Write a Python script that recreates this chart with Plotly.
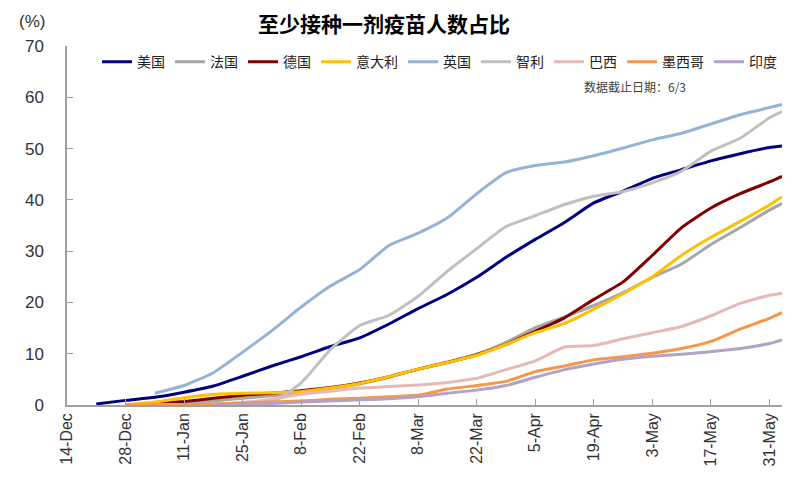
import plotly.graph_objects as go

dates = ["2020-12-14", "2020-12-21", "2020-12-28", "2021-01-04", "2021-01-11", "2021-01-18",
         "2021-01-25", "2021-02-01", "2021-02-08", "2021-02-15", "2021-02-22", "2021-03-01",
         "2021-03-08", "2021-03-15", "2021-03-22", "2021-03-29", "2021-04-05", "2021-04-12",
         "2021-04-19", "2021-04-26", "2021-05-03", "2021-05-10", "2021-05-17", "2021-05-24",
         "2021-05-31", "2021-06-03"]

us = [None, 0.2, 0.9, 1.5, 2.5, 3.7, 5.6, 7.6, 9.4, 11.4, 13.1, 15.8, 18.8, 21.6, 24.9, 28.8,
      32.3, 35.6, 39.4, 41.7, 44.2, 45.9, 47.6, 49.0, 50.2, 50.5]
france = [None, None, 0.0, 0.05, 0.3, 0.8, 1.3, 1.8, 2.4, 3.2, 4.1, 5.4, 7.0, 8.4, 9.9, 12.2,
          15.1, 17.2, 19.4, 21.9, 24.9, 27.5, 31.3, 34.6, 38.0, 39.3]
germany = [None, None, 0.0, 0.3, 0.7, 1.3, 1.9, 2.3, 2.8, 3.4, 4.3, 5.5, 7.0, 8.3, 9.8, 11.8,
           14.4, 17.0, 20.6, 24.0, 29.2, 34.6, 38.4, 41.2, 43.5, 44.6]
italy = [None, None, 0.05, 0.6, 1.4, 2.1, 2.3, 2.4, 2.6, 3.3, 4.2, 5.5, 7.0, 8.3, 9.7, 11.8,
         14.1, 15.9, 18.7, 21.7, 25.0, 29.2, 32.7, 35.8, 39.0, 40.6]
uk = [None, None, None, 2.3, 3.8, 6.3, 10.3, 14.5, 19.1, 23.2, 26.4, 31.1, 33.5, 36.5, 41.2,
      45.3, 46.7, 47.4, 48.6, 50.1, 51.7, 53.0, 54.8, 56.6, 58.0, 58.6]
chile = [None, None, 0.0, 0.05, 0.1, 0.2, 0.3, 0.5, 4.3, 10.8, 15.5, 17.5, 21.2, 26.1, 30.5,
         34.8, 36.9, 39.1, 40.7, 41.6, 43.3, 45.6, 49.5, 52.0, 56.0, 57.2]
brazil = [None, None, None, None, None, 0.1, 0.5, 1.1, 2.1, 2.7, 3.3, 3.6, 3.9, 4.4, 5.2, 6.9,
          8.6, 11.3, 11.6, 12.9, 14.1, 15.3, 17.4, 19.8, 21.4, 21.8]
mexico = [None, None, 0.0, 0.02, 0.05, 0.2, 0.4, 0.6, 0.8, 1.1, 1.3, 1.6, 1.9, 3.1, 3.8, 4.6,
          6.5, 7.6, 8.8, 9.4, 10.1, 11.0, 12.4, 14.8, 16.9, 18.0]
india = [None, None, None, None, None, 0.05, 0.15, 0.3, 0.6, 0.8, 1.0, 1.2, 1.6, 2.3, 2.9,
         3.8, 5.4, 6.9, 8.0, 8.9, 9.5, 9.9, 10.4, 11.0, 12.0, 12.7]

series_names = ["美国", "法国", "德国", "意大利", "英国", "智利", "巴西", "墨西哥", "印度"]
series_values = [us, france, germany, italy, uk, chile, brazil, mexico, india]
series_colors = ["#000080", "#A6A6A6", "#800000", "#FFC000", "#95B3D7", "#C0C0C0",
                 "#E6B9B8", "#F79646", "#B3A2C7"]

tick_dates = ["2020-12-14", "2020-12-28", "2021-01-11", "2021-01-25", "2021-02-08",
              "2021-02-22", "2021-03-08", "2021-03-22", "2021-04-05", "2021-04-19",
              "2021-05-03", "2021-05-17", "2021-05-31"]

fig = go.Figure()
for name, vals, col in zip(series_names, series_values, series_colors):
    fig.add_trace(go.Scatter(x=dates, y=vals, name=name, mode="lines",
                             line=dict(color=col, width=3, shape="spline", smoothing=0.5)))

font_fam = "Liberation Sans, Noto Sans CJK SC, sans-serif"
axis_col = "#A0A0A0"

# page body has an 8px margin: figure occupies x 8..802, y 8..492
W, H = 794, 484
fig.update_layout(
    width=W, height=H,
    margin=dict(l=59, r=20, t=38, b=87),
    paper_bgcolor="white", plot_bgcolor="white",
    font=dict(family=font_fam, color="#333333"),
    title=dict(text="<b>至少接种一剂疫苗人数占比</b>", x=(384 - 8) / W, xanchor="center",
               y=1 - (25 - 8) / H, yanchor="middle",
               font=dict(family="Noto Sans CJK SC", size=21, color="#000000")),
    legend=dict(orientation="h", x=(97 - 67) / 715, xanchor="left",
                y=0.955, yanchor="middle",
                font=dict(family="Noto Sans CJK SC", size=14, color="#222222"),
                bgcolor="rgba(0,0,0,0)", itemwidth=30, tracegroupgap=0),
    showlegend=True,
)

fig.update_xaxes(
    type="date", range=["2020-12-14", "2021-06-03"],
    tickvals=tick_dates, tickformat="%-d-%b", tickangle=-90,
    tickfont=dict(size=16, color="#333333"),
    showgrid=False, zeroline=False,
    showline=True, linecolor=axis_col, linewidth=1.5,
    ticks="inside", ticklen=6, tickcolor=axis_col, tickwidth=1,
)
fig.update_yaxes(
    range=[0, 70], dtick=10, tick0=0,
    tickfont=dict(size=17, color="#333333"),
    showgrid=False, zeroline=False,
    showline=True, linecolor=axis_col, linewidth=1.5,
    ticks="inside", ticklen=6, tickcolor=axis_col, tickwidth=1,
    ticklabelstandoff=18,
)

fig.add_annotation(text="(%)", xref="paper", yref="paper", x=-0.049, y=1.067,
                   xanchor="center", yanchor="middle", showarrow=False,
                   font=dict(size=17, color="#333333"))
fig.add_annotation(text="数据截止日期：6/3", xref="paper", yref="paper",
                   x=(635 - 67) / 715, y=1 - (86 - 46) / 359,
                   xanchor="center", yanchor="middle", showarrow=False,
                   font=dict(family="Noto Sans CJK SC", size=12, color="#404040"))

fig.write_html("out.html")
